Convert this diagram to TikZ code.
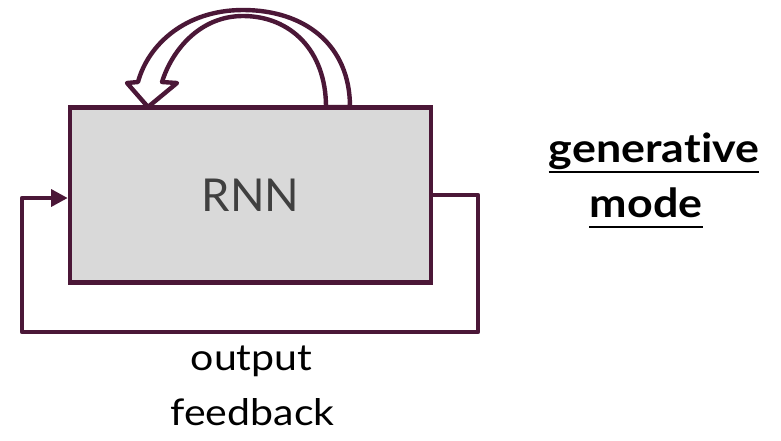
\documentclass[tikz,border=0pt]{standalone}
\usepackage{fontspec}
\setmainfont{Lato}[Ligatures=NoCommon]
\usetikzlibrary{arrows.meta,calc}
\definecolor{wine}{HTML}{4B1737}
\definecolor{boxgray}{HTML}{D9D9D9}
\definecolor{txtgray}{HTML}{404040}
\newcommand{\widetxt}[1]{\scalebox{1.12}[1]{#1}}
\begin{document}
\begin{tikzpicture}[x=0.75pt,y=-0.75pt,
  edge/.style={draw=wine, line width=3.3pt, line join=round},
  rnnbox/.style={draw=wine, fill=boxgray, line width=3.3pt,
    minimum width=270.75pt, minimum height=131.25pt, inner sep=0pt,
    font=\fontsize{34}{40}\selectfont, text=txtgray},
  txtlabel/.style={anchor=base, inner sep=0pt, font=\fontsize{27.5}{33}\selectfont},
  headtxt/.style={anchor=base, inner sep=0pt, font=\bfseries\fontsize{30}{36}\selectfont},
  uline/.style={draw=black, line width=1.5pt}]
\useasboundingbox (0,0) rectangle (781,440);

% hollow recurrent arrow on top of the cell
\draw[edge, fill=white]
  (350,107) .. controls (350,45) and (305,10) .. (243,10)
  .. controls (185,10) and (148,45) .. (138,82)
  -- (127,83) -- (148,107) -- (177,83) -- (162,82)
  .. controls (172,50) and (200,16) .. (243,16)
  .. controls (290,16) and (326,50) .. (326,107) -- cycle;

% the RNN cell
\node[rnnbox] (rnn) at (250.5,195) {RNN};

% output fed back to the input
\coordinate (c1) at (478,332);
\coordinate (c2) at (22,332);
\draw[edge, -{Triangle[length=12.5pt,width=12.5pt]}]
  (rnn.east) -| (c1) -- (c2) |- ([yshift=-2.25pt]rnn.west);

% captions
\node[txtlabel] (out) at (251.5,370) {\widetxt{output}};
\node[txtlabel] (fb) at (252.5,425) {\widetxt{feedback}};

\node[headtxt] (gen) at (654,162) {\widetxt{genera\kern0pt tive}};
\node[headtxt] (mode) at (646,217) {\widetxt{mode}};
\draw[uline] ($(gen.base west)+(0,10)$) -- ($(gen.base east)+(0,10)$);
\draw[uline] ($(mode.base west)+(0,10)$) -- ($(mode.base east)+(0,10)$);
\end{tikzpicture}
\end{document}
